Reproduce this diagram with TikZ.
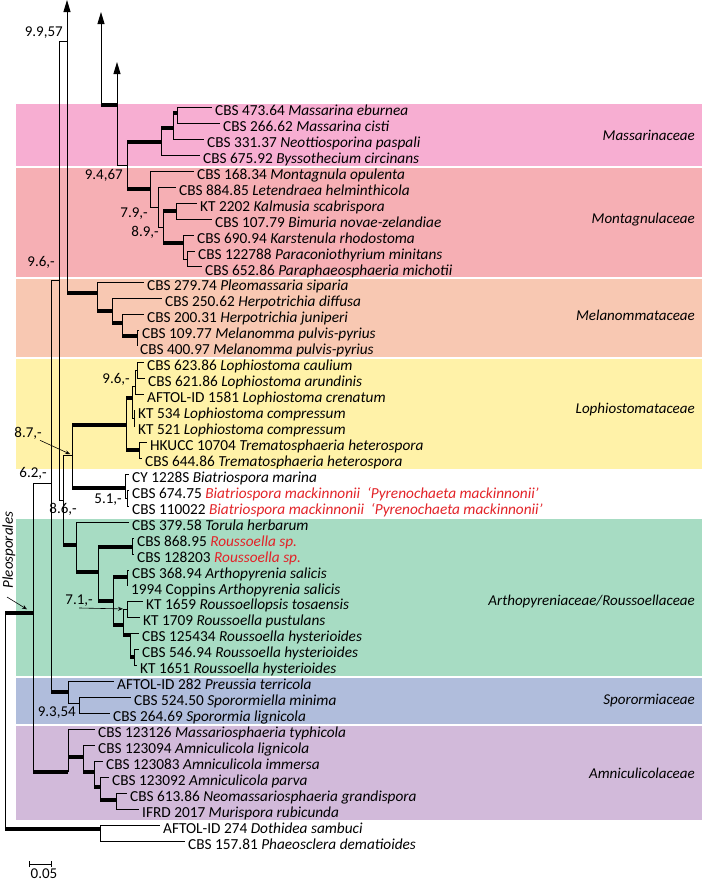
\documentclass[tikz,border=0pt]{standalone}
\usepackage{fontspec}
\setmainfont{Carlito}
\usetikzlibrary{arrows.meta}
\definecolor{famMas}{RGB}{247,174,210}
\definecolor{famMon}{RGB}{246,175,180}
\definecolor{famMel}{RGB}{248,200,178}
\definecolor{famLop}{RGB}{255,242,168}
\definecolor{famArt}{RGB}{167,220,195}
\definecolor{famSpo}{RGB}{176,189,220}
\definecolor{famAmn}{RGB}{210,186,218}
\definecolor{spRed}{RGB}{226,35,40}
\newcommand{\branch}[2]{\draw[br] (#1) |- (#2);}
\newcommand{\tbranch}[2]{\draw[br] (#1) |- (#2); \draw[thk] (#1 |- #2) -- (#2);}
\newcommand{\red}[1]{\textcolor{spRed}{\textit{#1}}}

\begin{document}
\begin{tikzpicture}[x=1pt,y=-1pt,
    br/.style={line width=0.9pt},
    thk/.style={line width=3.3pt},
    up/.style={br,-{Triangle[length=12pt,width=7pt]}},
    pt/.style={line width=0.6pt,-{Stealth[length=5pt,width=4pt,open]}},
    leaf/.style={anchor=west,inner xsep=3pt,inner ysep=0pt,text height=17pt,text depth=0pt,font=\fontsize{15.3}{17}\selectfont},
    lb/.style={anchor=east,inner sep=1pt,font=\fontsize{15}{17}\selectfont},
    fam/.style={anchor=east,inner sep=0pt,font=\fontsize{15}{17}\selectfont\itshape}
  ]
  \useasboundingbox (0,0) rectangle (702,881);
  \fill[famMas] (16,103.5) rectangle (702,165.5);
  \fill[famMon] (16,167.5) rectangle (702,277);
  \fill[famMel] (16,278.5) rectangle (702,356.5);
  \fill[famLop] (16,358.5) rectangle (702,468.5);
  \fill[famArt] (16,518.5) rectangle (702,675.5);
  \fill[famSpo] (16,677.5) rectangle (702,723.5);
  \fill[famAmn] (16,725.5) rectangle (702,819.5);

  \node[fam] (fMas) at (695,135) {Massarinaceae};
  \node[fam] (fMon) at (695,220) {Montagnulaceae};
  \node[fam] (fMel) at (695,315) {Melanommataceae};
  \node[fam] (fLop) at (695,409) {Lophiostomataceae};
  \node[fam] (fArt) at (695,601) {Arthopyreniaceae/Roussoellaceae};
  \node[fam] (fSpo) at (695,701) {Sporormiaceae};
  \node[fam] (fAmn) at (695,773) {Amniculicolaceae};
  \node[fam,anchor=center,rotate=90] (fPle) at (9,550) {Pleosporales};

  \node[leaf] (l1) at (212,107) {CBS 473.64 \textit{Massarina eburnea}};
  \node[leaf] (l2) at (220,123) {CBS 266.62 \textit{Massarina cisti}};
  \node[leaf] (l3) at (204,139) {CBS 331.37 \textit{Neottiosporina paspali}};
  \node[leaf] (l4) at (200,155) {CBS 675.92 \textit{Byssothecium circinans}};
  \node[leaf] (l5) at (194,171) {CBS 168.34 \textit{Montagnula opulenta}};
  \node[leaf] (l6) at (176,187) {CBS 884.85 \textit{Letendraea helminthicola}};
  \node[leaf] (l7) at (197,203) {KT 2202 \textit{Kalmusia scabrispora}};
  \node[leaf] (l8) at (212,219) {CBS 107.79 \textit{Bimuria novae-zelandiae}};
  \node[leaf] (l9) at (194,235) {CBS 690.94 \textit{Karstenula rhodostoma}};
  \node[leaf] (l10) at (195,251) {CBS 122788 \textit{Paraconiothyrium minitans}};
  \node[leaf] (l11) at (202,266.5) {CBS 652.86 \textit{Paraphaeosphaeria michotii}};
  \node[leaf] (l12) at (144,282) {CBS 279.74 \textit{Pleomassaria siparia}};
  \node[leaf] (l13) at (162,298) {CBS 250.62 \textit{Herpotrichia diffusa}};
  \node[leaf] (l14) at (144,314) {CBS 200.31 \textit{Herpotrichia juniperi}};
  \node[leaf] (l15) at (139,330) {CBS 109.77 \textit{Melanomma pulvis-pyrius}};
  \node[leaf] (l16) at (137,346) {CBS 400.97 \textit{Melanomma pulvis-pyrius}};
  \node[leaf] (l17) at (144,362) {CBS 623.86 \textit{Lophiostoma caulium}};
  \node[leaf] (l18) at (145,378) {CBS 621.86 \textit{Lophiostoma arundinis}};
  \node[leaf] (l19) at (144,394) {AFTOL-ID 1581 \textit{Lophiostoma crenatum}};
  \node[leaf] (l20) at (135,410) {KT 534 \textit{Lophiostoma compressum}};
  \node[leaf] (l21) at (135,426) {KT 521 \textit{Lophiostoma compressum}};
  \node[leaf] (l22) at (147,442) {HKUCC 10704 \textit{Trematosphaeria heterospora}};
  \node[leaf] (l23) at (142,458) {CBS 644.86 \textit{Trematosphaeria heterospora}};
  \node[leaf] (l24) at (129,474) {CY 1228S \textit{Biatriospora marina}};
  \node[leaf] (l25) at (129,490) {CBS 674.75 \red{Biatriospora mackinnonii\ \ ‘Pyrenochaeta mackinnonii’}};
  \node[leaf] (l26) at (129,506) {CBS 110022 \red{Biatriospora mackinnonii\ \ ‘Pyrenochaeta mackinnonii’}};
  \node[leaf] (l27) at (129,522) {CBS 379.58 \textit{Torula herbarum}};
  \node[leaf] (l28) at (134,538) {CBS 868.95 \red{Roussoella sp.}};
  \node[leaf] (l29) at (134,554) {CBS 128203 \red{Roussoella sp.}};
  \node[leaf] (l30) at (129,570) {CBS 368.94 \textit{Arthopyrenia salicis}};
  \node[leaf] (l31) at (128,585.5) {1994 Coppins \textit{Arthopyrenia salicis}};
  \node[leaf] (l32) at (143,601) {KT 1659 \textit{Roussoellopsis tosaensis}};
  \node[leaf] (l33) at (140,617) {KT 1709 \textit{Roussoella pustulans}};
  \node[leaf] (l34) at (139,633) {CBS 125434 \textit{Roussoella hysterioides}};
  \node[leaf] (l35) at (139,649) {CBS 546.94 \textit{Roussoella hysterioides}};
  \node[leaf] (l36) at (137,665) {KT 1651 \textit{Roussoella hysterioides}};
  \node[leaf] (l37) at (114,681) {AFTOL-ID 282 \textit{Preussia terricola}};
  \node[leaf] (l38) at (131,697) {CBS 524.50 \textit{Sporormiella minima}};
  \node[leaf] (l39) at (110,713) {CBS 264.69 \textit{Sporormia lignicola}};
  \node[leaf] (l40) at (95,729) {CBS 123126 \textit{Massariosphaeria typhicola}};
  \node[leaf] (l41) at (95,745) {CBS 123094 \textit{Amniculicola lignicola}};
  \node[leaf] (l42) at (103,761) {CBS 123083 \textit{Amniculicola immersa}};
  \node[leaf] (l43) at (109,777) {CBS 123092 \textit{Amniculicola parva}};
  \node[leaf] (l44) at (127,793) {CBS 613.86 \textit{Neomassariosphaeria grandispora}};
  \node[leaf] (l45) at (139,809) {IFRD 2017 \textit{Murispora rubicunda}};
  \node[leaf] (l46) at (160,825) {AFTOL-ID 274 \textit{Dothidea sambuci}};
  \node[leaf] (l47) at (185,841) {CBS 157.81 \textit{Phaeosclera dematioides}};

  \coordinate (r) at (5,613);     \coordinate (pl) at (33,613);
  \coordinate (dot) at (100,829); \coordinate (n50) at (51,483);
  \coordinate (n59) at (59,280);  \coordinate (n67) at (67,41);
  \coordinate (a67) at (67,0);    \coordinate (n63) at (63,500);
  \coordinate (n72) at (72,455);  \coordinate (n101) at (101,105);
  \coordinate (a101) at (101,12); \coordinate (n117) at (117,105);
  \coordinate (a117) at (117,62); \coordinate (n127) at (127,165);
  \coordinate (mas) at (161,142); \coordinate (m1) at (173,128);
  \coordinate (m2) at (177,113);  \coordinate (mon) at (150,189);
  \coordinate (mB) at (158,207);  \coordinate (mC) at (163,227);
  \coordinate (mD) at (176,211);  \coordinate (mE) at (183,243);
  \coordinate (mF) at (187,259);  \coordinate (mel) at (97,293);
  \coordinate (e1) at (112,311);  \coordinate (e2) at (122,323);
  \coordinate (e3) at (137,336);  \coordinate (lop) at (126,425);
  \coordinate (o1) at (132,398);  \coordinate (o2) at (135,386);
  \coordinate (o2a) at (137,370); \coordinate (o3) at (134,418);
  \coordinate (o4) at (139,450);  \coordinate (bia) at (125,488);
  \coordinate (b1) at (127,498);  \coordinate (art) at (76,545);
  \coordinate (a1) at (98,572);   \coordinate (a2) at (132,547);
  \coordinate (a3) at (113,601);  \coordinate (a4) at (127,577);
  \coordinate (a5) at (123,625);  \coordinate (a6) at (127,609);
  \coordinate (a7) at (130,635);  \coordinate (a8) at (134,657);
  \coordinate (spo) at (68,692);  \coordinate (s1) at (79,703);
  \coordinate (amn) at (68,772);  \coordinate (c1) at (83,757);
  \coordinate (c2) at (94,772);   \coordinate (c3) at (100,787);
  \coordinate (c4) at (116,800);

  \tbranch{r}{pl}  \tbranch{r}{dot}
  \branch{dot}{l46.west}  \branch{dot}{l47.west}
  \branch{pl}{n50}  \tbranch{pl}{amn}
  \branch{n50}{n59} \tbranch{n50}{spo}
  \branch{n59}{n67} \branch{n59}{n63}
  \draw[up] (n67) -- (a67);
  \tbranch{n67}{mel}
  \draw[up] (n101) -- (a101);
  \tbranch{n101}{n117}
  \draw[up] (n117) -- (a117);
  \branch{n117}{n127}
  \tbranch{n127}{mas} \tbranch{n127}{mon}

  \tbranch{mas}{m1} \branch{mas}{l4.west}
  \tbranch{m1}{m2}  \branch{m1}{l3.west}
  \branch{m2}{l1.west} \branch{m2}{l2.west}

  \branch{mon}{l5.west} \branch{mon}{mB}
  \branch{mB}{l6.west}  \branch{mB}{mC}
  \tbranch{mC}{mD} \tbranch{mC}{mE}
  \branch{mD}{l7.west} \branch{mD}{l8.west}
  \branch{mE}{l9.west} \branch{mE}{mF}
  \branch{mF}{l10.west} \branch{mF}{l11.west}

  \branch{mel}{l12.west} \tbranch{mel}{e1}
  \branch{e1}{l13.west}  \tbranch{e1}{e2}
  \branch{e2}{l14.west}  \tbranch{e2}{e3}
  \branch{e3}{l15.west}  \branch{e3}{l16.west}

  \branch{n63}{n72} \tbranch{n63}{art}
  \tbranch{n72}{lop} \tbranch{n72}{bia}
  \tbranch{lop}{o1} \tbranch{lop}{o4}
  \branch{o1}{o2} \branch{o1}{o3}
  \branch{o2}{o2a} \branch{o2}{l19.west}
  \branch{o2a}{l17.west} \branch{o2a}{l18.west}
  \branch{o3}{l20.west} \branch{o3}{l21.west}
  \branch{o4}{l22.west} \branch{o4}{l23.west}
  \branch{bia}{l24.west} \branch{bia}{b1}
  \branch{b1}{l25.west} \branch{b1}{l26.west}

  \branch{art}{l27.west} \tbranch{art}{a1}
  \tbranch{a1}{a2} \tbranch{a1}{a3}
  \branch{a2}{l28.west} \branch{a2}{l29.west}
  \tbranch{a3}{a4} \tbranch{a3}{a5}
  \branch{a4}{l30.west} \branch{a4}{l31.west}
  \branch{a5}{a6} \tbranch{a5}{a7}
  \branch{a6}{l32.west} \branch{a6}{l33.west}
  \branch{a7}{l34.west} \tbranch{a7}{a8}
  \branch{a8}{l35.west} \branch{a8}{l36.west}

  \branch{spo}{l37.west} \branch{spo}{s1}
  \branch{s1}{l38.west} \branch{s1}{l39.west}

  \branch{amn}{l40.west} \tbranch{amn}{c1}
  \branch{c1}{l41.west} \tbranch{c1}{c2}
  \branch{c2}{l42.west} \tbranch{c2}{c3}
  \branch{c3}{l43.west} \tbranch{c3}{c4}
  \branch{c4}{l44.west} \branch{c4}{l45.west}

  \node[lb] (k99) at (64,33) {9.9,57};
  \node[lb] (k96a) at (56,262) {9.6,-};
  \node[lb] (k94) at (124,175) {9.4,67};
  \node[lb] (k79) at (149,214) {7.9,-};
  \node[lb] (k89) at (160,232) {8.9,-};
  \node[lb] (k96b) at (131,379) {9.6,-};
  \node[lb] (k87) at (43,433) {8.7,-};
  \node[lb] (k62) at (48,473) {6.2,-};
  \node[lb] (k86) at (78,509) {8.6,-};
  \node[lb] (k51) at (123,500) {5.1,-};
  \node[lb] (k71) at (94,601) {7.1,-};
  \node[lb] (k93) at (77,713) {9.3,54};
  \draw[pt,shorten >=2pt] ([xshift=-3pt]k87.south east) -- (n72);
  \draw[pt,shorten >=4pt] (k71.south) -- (a6);
  \coordinate (pa) at (7,597);
  \draw[pt,shorten >=7pt] (pa) -- (pl);

  \coordinate (sb1) at (29,864); \coordinate (sb2) at (52,864);
  \draw[br,{Bar[width=6pt]}-{Bar[width=6pt]}] (sb1) -- (sb2);
  \node[lb,anchor=north] (sbl) at (44,868) {0.05};
\end{tikzpicture}
\end{document}
